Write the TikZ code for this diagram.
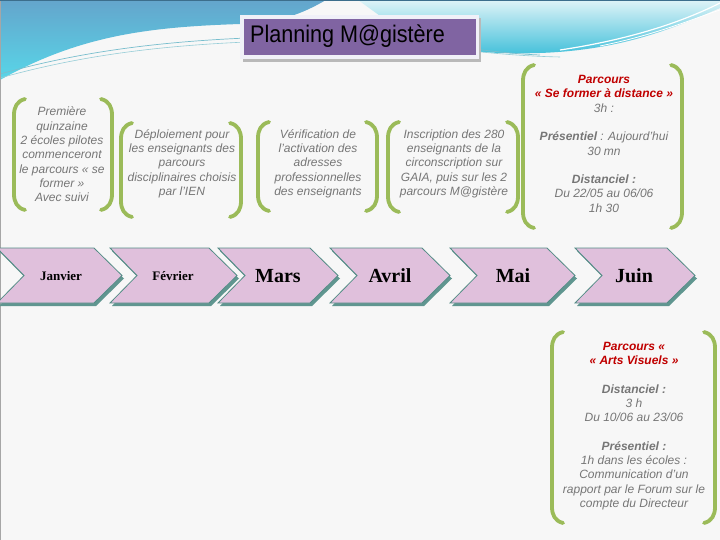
\documentclass[tikz,border=0pt]{standalone}
\usepackage{fontspec}
\setmainfont{Liberation Sans}
\newfontfamily\monthfont{Liberation Serif}
\definecolor{brkgreen}{RGB}{155,187,89}
\definecolor{txtgray}{RGB}{118,118,118}
\definecolor{redt}{RGB}{192,0,0}
\definecolor{chevfill}{RGB}{224,192,220}
\definecolor{chevedge}{RGB}{84,140,134}
\definecolor{chevshadow}{RGB}{96,150,144}
\definecolor{titlepurple}{RGB}{128,100,162}
\definecolor{bgcol}{RGB}{247,247,247}
\definecolor{lblue1}{RGB}{100,165,204}
\definecolor{lblue2}{RGB}{88,214,232}
\definecolor{rcyan1}{RGB}{222,243,247}
\definecolor{rcyan2}{RGB}{66,192,218}
\definecolor{swline1}{RGB}{120,190,205}
\definecolor{swline2}{RGB}{150,205,215}
\definecolor{topline}{RGB}{60,110,140}
\definecolor{titleframe}{RGB}{240,240,248}
\newcommand\gbrk[4]{%
  \draw[brk] ({#1+11},#3) .. controls ({#1+3},{#3+2}) and (#1,{#3+8}) .. (#1,{#3+16}) -- (#1,{#4-16}) .. controls (#1,{#4-8}) and ({#1+3},{#4-2}) .. ({#1+11},#4);
  \draw[brk] ({#2-11},#3) .. controls ({#2-3},{#3+2}) and (#2,{#3+8}) .. (#2,{#3+16}) -- (#2,{#4-16}) .. controls (#2,{#4-8}) and ({#2-3},{#4-2}) .. ({#2-11},#4);}
\newcommand\chev[2]{%
  \fill[chevshadow] ({#1+2},251) -- ({#1+#2-26},251) -- ({#1+#2+2},278.5) -- ({#1+#2-26},306) -- ({#1+2},306) -- ({#1+29},278.5) -- cycle;
  \filldraw[fill=chevfill,draw=chevedge,line width=0.8] (#1,248) -- ({#1+#2-28},248) -- ({#1+#2},275.5) -- ({#1+#2-28},303) -- (#1,303) -- ({#1+27},275.5) -- cycle;}
\newcommand\btext[1]{\begin{tabular}{@{}c@{}}#1\end{tabular}}
\begin{document}
\begin{tikzpicture}[x=1pt,y=-1pt,
  brk/.style={draw=brkgreen,line width=3.8,line cap=round},
  bt/.style={font={\fontsize{12}{14.3}\selectfont\itshape},text=txtgray,inner sep=0},
  mlab/.style={inner sep=0,text=black},
  msmall/.style={font={\monthfont\bfseries\fontsize{13}{15}\selectfont}},
  mbig/.style={font={\monthfont\bfseries\fontsize{20}{22}\selectfont}}]
\useasboundingbox (0,0) rectangle (720,540);
% background
\fill[bgcol] (0,0) rectangle (720,540);
\shade[top color=lblue1, bottom color=lblue2]
  (0,0) -- (326,0) .. controls (300,15) and (280,22) .. (240,24) .. controls (150,27) and (80,35) .. (0,80) -- cycle;
\shade[top color=rcyan1, bottom color=rcyan2]
  (358,0) -- (720,0) -- (720,8) .. controls (670,30) and (620,50) .. (540,53) .. controls (480,55) and (440,48) .. (420,40) .. controls (395,28) and (375,12) .. (358,0) -- cycle;
\draw[white,line width=1.2] (560,50) .. controls (640,38) and (690,18) .. (720,3);
\draw[white,line width=0.8] (600,46) .. controls (660,34) and (700,16) .. (720,10);
\draw[swline1,line width=0.7] (0,74) .. controls (100,46) and (200,37) .. (330,36) .. controls (420,37) and (470,52) .. (540,55);
\draw[swline2,line width=0.6] (0,78) .. controls (100,50) and (200,41) .. (330,40) .. controls (420,41) and (470,55) .. (560,57);
\draw[gray!70,line width=1] (0.5,0) -- (0.5,540);
\draw[topline,line width=0.8] (0,0.4) -- (720,0.4);
% title
\fill[gray!55] (243,18) rectangle (481,62);
\fill[titleframe] (240,15) rectangle (479,59);
\fill[titlepurple] (244,19) rectangle (476,55);
\node[anchor=base west,inner sep=0,font=\fontsize{24}{26}\selectfont,xscale=0.9] (title) at (250,43) {Planning M@gistère};
% brackets
\gbrk{14}{112}{99}{210}
\gbrk{121}{241}{123}{217}
\gbrk{258}{377}{122}{211}
\gbrk{388}{518}{122}{212}
\gbrk{523}{682}{65}{228}
\gbrk{552}{715}{332}{523}
% texts
\node[bt] (t1) at (62,156) {\btext{Première\\quinzaine\\2 écoles pilotes\\commenceront\\le parcours « se\\former »\\Avec suivi}};
\node[bt] (t2) at (182,164) {\btext{Déploiement pour\\les enseignants des\\parcours\\disciplinaires choisis\\par l’IEN}};
\node[bt] (t3) at (318,164) {\btext{Vérification de\\l’activation des\\adresses\\professionnelles\\des enseignants}};
\node[bt] (t4) at (454,164) {\btext{Inscription des 280\\enseignants de la\\circonscription  sur\\GAIA, puis sur les 2\\parcours M@gistère}};
\node[bt] (t5) at (604,145) {\btext{\textcolor{redt}{\textbf{Parcours}}\\\textcolor{redt}{\textbf{« Se former à distance »}}\\3h :\\ \\\textbf{Présentiel} : Aujourd’hui\\30 mn\\ \\\textbf{Distanciel :}\\Du 22/05 au 06/06\\1h 30}};
\node[bt] (t6) at (634,426) {\btext{\textcolor{redt}{\textbf{Parcours «}}\\\textcolor{redt}{\textbf{« Arts Visuels »}}\\ \\\textbf{Distanciel :}\\3 h\\Du 10/06 au 23/06\\ \\\textbf{Présentiel :}\\1h dans les écoles :\\Communication d’un\\rapport par le Forum sur le\\compte du Directeur}};
% chevrons
\chev{-3}{125}
\chev{110}{127}
\chev{218}{120}
\chev{330}{120}
\chev{450}{125}
\chev{575}{120}
\node[mlab,msmall] (jan) at (61,276) {Janvier};
\node[mlab,msmall] (feb) at (173,276) {Février};
\node[mlab,mbig] (mar) at (278,276) {Mars};
\node[mlab,mbig] (apr) at (390,276) {Avril};
\node[mlab,mbig] (may) at (513,276) {Mai};
\node[mlab,mbig] (jun) at (634,276) {Juin};
\end{tikzpicture}
\end{document}
